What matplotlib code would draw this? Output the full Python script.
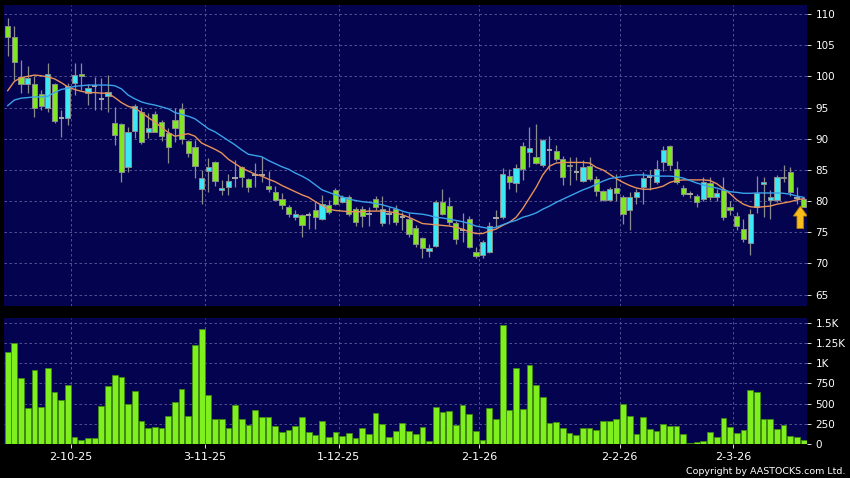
import matplotlib
matplotlib.use('Agg')
import matplotlib.pyplot as plt
import numpy as np
from matplotlib.patches import FancyArrow

# daily candles (index = trading day)
opens = [108.1, 106.3, 99.9, 98.8, 98.8, 97.2, 95.0, 98.7, 93.4, 93.4,
         98.9, 100.4, 97.3, 98.4, 96.3, 96.9, 92.5, 92.3, 85.4, 91.3,
         94.3, 91.0, 93.9, 92.7, 90.9, 93.0, 94.7, 89.6, 88.6, 81.9,
         84.8, 86.3, 81.8, 82.2, 83.7, 85.4, 83.5, 84.2, 84.2, 82.5,
         81.4, 80.3, 79.0, 77.5, 77.8, 77.8, 78.5, 77.1, 79.4, 81.7,
         79.9, 80.7, 78.8, 78.8, 77.9, 80.3, 76.5, 77.9, 78.7, 77.5,
         77.1, 75.7, 74.1, 72.0, 72.8, 79.9, 79.2, 76.5, 75.4, 77.2,
         71.9, 71.4, 71.9, 77.3, 77.4, 84.0, 82.9, 88.9, 87.9, 87.0,
         85.8, 88.2, 88.1, 86.7, 85.8, 84.6, 83.2, 85.6, 83.5, 81.6,
         80.1, 82.05, 80.7, 78.6, 80.7, 82.3, 83.9, 83.0, 86.3, 88.8,
         85.1, 82.05, 81.2, 80.8, 80.3, 82.9, 80.7, 81.7, 79.0, 77.6,
         75.6, 73.3, 79.1, 82.7, 80.1, 80.1, 83.9, 84.6, 80.5, 80.3]
highs = [109.3, 108.1, 102.7, 101.6, 100.0, 97.8, 102.1, 98.9, 94.6, 98.9,
         102.1, 102.1, 98.7, 99.9, 99.8, 100.2, 95.1, 92.6, 91.9, 95.6,
         95.1, 94.1, 94.5, 93.0, 91.7, 94.9, 95.8, 89.8, 89.8, 85.0,
         86.9, 86.5, 83.4, 84.3, 86.6, 85.6, 83.7, 86.1, 87.1, 84.8,
         82.4, 81.3, 79.4, 78.6, 78.0, 78.2, 79.9, 81.0, 80.2, 82.1,
         81.0, 80.9, 79.0, 79.2, 79.1, 80.8, 80.8, 79.0, 79.3, 78.3,
         78.1, 76.1, 74.2, 73.2, 80.2, 81.9, 80.6, 76.8, 78.1, 77.6,
         72.6, 73.8, 76.7, 78.5, 85.3, 85.2, 86.0, 89.5, 91.9, 92.4,
         90.0, 90.4, 89.0, 87.2, 87.0, 87.1, 86.6, 87.0, 84.0, 81.8,
         82.2, 84.3, 81.0, 81.5, 82.0, 84.6, 85.0, 86.6, 88.9, 89.0,
         86.5, 82.6, 81.6, 81.2, 83.9, 83.9, 82.0, 83.9, 80.0, 78.3,
         77.2, 78.7, 84.0, 83.9, 81.8, 84.2, 85.8, 85.5, 82.3, 80.7]
lows = [103.2, 99.4, 97.3, 97.3, 93.5, 94.6, 94.3, 92.6, 90.3, 92.2,
        97.0, 97.8, 95.4, 94.6, 94.6, 94.3, 89.0, 83.0, 84.6, 90.1,
        89.2, 90.1, 91.0, 89.7, 86.1, 89.5, 89.2, 87.0, 83.7, 79.5,
        81.5, 82.4, 81.0, 81.0, 82.3, 82.3, 81.4, 82.3, 83.1, 81.5,
        80.0, 78.7, 77.4, 76.9, 74.3, 75.6, 75.6, 77.0, 78.0, 79.3,
        79.7, 77.6, 76.0, 75.9, 76.0, 78.6, 76.0, 76.3, 76.2, 75.4,
        74.2, 72.7, 70.8, 71.1, 72.6, 77.8, 76.2, 73.2, 73.5, 72.5,
        70.9, 70.9, 71.7, 75.8, 77.2, 82.0, 81.5, 83.4, 85.5, 85.9,
        85.5, 85.0, 86.5, 82.6, 82.6, 83.4, 83.0, 83.3, 80.8, 80.0,
        80.0, 80.0, 76.3, 75.3, 79.5, 79.6, 81.7, 82.8, 84.8, 85.0,
        82.8, 80.8, 80.5, 79.0, 80.0, 80.2, 80.0, 77.0, 77.8, 75.4,
        73.5, 71.4, 78.1, 77.5, 77.2, 79.9, 83.0, 80.8, 79.6, 79.0]
closes = [106.3, 102.3, 98.8, 99.8, 95.0, 95.3, 100.3, 92.8, 93.4, 98.5,
          100.2, 100.0, 98.2, 98.4, 96.3, 97.5, 90.6, 84.6, 91.0, 95.3,
          89.4, 91.7, 91.1, 90.4, 88.7, 91.7, 90.0, 87.7, 85.7, 83.7,
          85.5, 83.3, 82.1, 83.2, 83.7, 83.9, 82.3, 84.2, 84.2, 82.0,
          80.2, 79.3, 77.9, 77.9, 76.1, 77.8, 77.4, 79.5, 78.2, 79.5,
          80.7, 78.0, 76.6, 77.6, 77.9, 79.0, 78.7, 77.9, 76.7, 77.5,
          74.7, 73.1, 72.4, 72.4, 79.9, 78.0, 76.7, 73.9, 75.4, 72.7,
          71.2, 73.5, 76.0, 77.3, 84.4, 83.1, 85.3, 85.1, 88.5, 86.1,
          89.8, 88.2, 86.7, 83.9, 85.6, 84.6, 85.5, 83.5, 81.6, 80.2,
          81.9, 81.35, 78.0, 80.7, 81.5, 83.7, 83.9, 85.1, 88.2, 85.8,
          83.0, 81.1, 81.2, 79.8, 83.0, 80.7, 81.35, 77.5, 78.5, 76.0,
          73.9, 78.0, 81.35, 83.1, 80.7, 83.9, 83.7, 81.5, 80.5, 79.0]

# moving averages as drawn on the chart
ma_short = [97.7, 99.2, 99.8, 100.0, 100.2, 100.1, 99.9, 99.6, 99.0, 98.3,
            97.9, 97.6, 97.4, 97.4, 97.3, 97.3, 96.6, 95.8, 95.2, 94.9,
            94.2, 93.4, 92.7, 91.8, 91.0, 90.4, 90.6, 90.8, 90.4, 89.3,
            88.8, 88.3, 87.7, 86.7, 86.0, 85.3, 84.8, 84.3, 84.0, 83.5,
            83.1, 82.5, 82.0, 81.5, 81.0, 80.6, 79.9, 79.3, 78.7, 78.5,
            78.4, 78.3, 78.3, 78.3, 78.4, 78.4, 78.4, 78.3, 78.1, 77.8,
            77.4, 76.9, 76.4, 76.3, 76.2, 76.1, 76.0, 75.8, 75.5, 75.1,
            74.8, 74.8, 75.2, 75.5, 76.1, 76.6, 77.4, 78.8, 80.5, 82.2,
            84.2, 85.6, 86.1, 86.2, 86.2, 86.2, 86.2, 86.1, 85.4, 85.0,
            84.3, 83.6, 83.0, 82.5, 82.1, 81.9, 81.9, 82.1, 82.4, 83.0,
            83.3, 83.4, 83.4, 83.4, 83.4, 83.3, 82.8, 82.0, 81.2, 80.2,
            79.5, 79.1, 79.0, 79.1, 79.2, 79.5, 79.7, 79.9, 80.2, 80.4]
ma_long = [95.3, 96.2, 96.5, 96.6, 96.7, 96.7, 96.8, 97.4, 97.9, 98.1,
           98.4, 98.5, 98.6, 98.6, 98.6, 98.6, 98.5, 98.0, 97.0, 96.4,
           95.9, 95.6, 95.4, 95.1, 94.8, 94.2, 93.9, 93.6, 93.2, 92.4,
           91.6, 91.1, 90.4, 89.7, 89.0, 88.2, 87.5, 87.3, 87.1, 86.5,
           86.0, 85.5, 85.1, 84.5, 84.0, 83.4, 82.6, 81.8, 81.4, 81.0,
           80.7, 80.3, 80.1, 79.9, 79.8, 79.6, 79.4, 79.1, 78.8, 78.4,
           78.1, 78.0, 77.9, 77.7, 77.4, 77.3, 77.1, 76.9, 76.7, 76.4,
           76.0, 75.8, 75.6, 75.8, 76.2, 76.6, 76.9, 77.4, 77.7, 78.1,
           78.7, 79.2, 79.8, 80.3, 80.8, 81.3, 81.8, 82.2, 82.7, 83.2,
           83.6, 83.8, 83.9, 84.1, 84.2, 84.2, 84.1, 84.0, 84.0, 84.0,
           83.9, 83.7, 83.3, 82.9, 82.6, 82.3, 82.1, 81.8, 81.5, 81.4,
           81.25, 81.25, 81.3, 81.3, 81.3, 81.3, 81.25, 81.1, 80.8, 80.6]

# volume (shares, K)
volumes = [1146, 1250, 822, 440, 918, 453, 947, 648, 544, 727,
           83, 50, 66, 66, 473, 723, 860, 835, 490, 656,
           287, 195, 203, 195, 349, 515, 677, 345, 1229, 1424,
           606, 307, 307, 199, 482, 307, 228, 424, 332, 336,
           220, 141, 166, 220, 336, 145, 104, 282, 83, 141,
           96, 129, 75, 195, 116, 382, 249, 79, 158, 257,
           158, 116, 208, 33, 461, 390, 407, 233, 486, 370,
           154, 46, 449, 307, 1478, 419, 939, 432, 976, 731,
           586, 253, 270, 195, 133, 108, 195, 191, 166, 278,
           278, 303, 494, 341, 125, 336, 183, 154, 245, 216,
           216, 125, 5, 21, 37, 145, 83, 320, 208, 137,
           170, 673, 648, 307, 311, 183, 233, 91, 79, 46]

date_labels = ['2-10-25', '3-11-25', '1-12-25', '2-1-26', '2-2-26', '2-3-26']
date_index = [9, 29, 49, 70, 91, 108]

price_ticks = [65, 70, 75, 80, 85, 90, 95, 100, 105, 110]
vol_ticks = [0, 250, 500, 750, 1000, 1250, 1500]
vol_tick_labels = ['0', '250', '500', '750', '1K', '1.25K', '1.5K']

navy = '#03034f'
grid_col = '#5c5c9c'
up_col = '#3ce8f4'
down_col = '#80e622'
edge_col = '#8c8c8c'

o = np.array(opens)
h = np.array(highs)
l = np.array(lows)
c = np.array(closes)
x = np.arange(len(o))
grid_x = np.array(date_index) + 0.5

fig = plt.figure(figsize=(8.5, 4.78), dpi=100, facecolor='black')
ax = fig.add_axes([4 / 850, 1 - 306 / 478, 803 / 850, 301 / 478])
axv = fig.add_axes([4 / 850, 1 - 444 / 478, 803 / 850, 126 / 478])

for a in (ax, axv):
    a.set_facecolor(navy)
    for s in a.spines.values():
        s.set_visible(False)
    a.set_xlim(-0.55, 119.5)
    for gx in grid_x:
        a.axvline(gx, color=grid_col, lw=0.6, ls=(0, (3, 3)), zorder=0)

# price panel
for p in price_ticks:
    ax.axhline(p, color=grid_col, lw=0.6, ls=(0, (3, 3)), zorder=0)

ax.vlines(x, l, h, color=edge_col, lw=0.9, zorder=1)
doji = o == c
body_col = np.where(c > o, up_col, down_col)
ax.bar(x[~doji], np.abs(c - o)[~doji], bottom=np.minimum(o, c)[~doji],
       width=0.78, color=body_col[~doji], edgecolor=edge_col, linewidth=0.7, zorder=2)
ax.hlines(o[doji], x[doji] - 0.4, x[doji] + 0.4, color='#a8a8a8', lw=1.4, zorder=2)

ax.plot(x, ma_short, color='#e8925a', lw=1.0, zorder=3)
ax.plot(x, ma_long, color='#3aa2ea', lw=1.0, zorder=3)

# arrow under the latest candle
last = len(o) - 1
ax.add_patch(FancyArrow(last - 0.5, l[last] - 3.4, 0, 3.6, width=1.0,
                        head_width=2.1, head_length=1.6, length_includes_head=True,
                        fc='#f6bd1c', ec='#b07a00', lw=0.6, zorder=4))

ax.set_ylim(63.18, 111.44)
ax.yaxis.tick_right()
ax.set_yticks(price_ticks)
ax.set_xticks([])
ax.tick_params(axis='y', colors='white', labelsize=7.5, length=3, pad=3, width=0.6)

# volume panel
for v in vol_ticks[1:]:
    axv.axhline(v, color=grid_col, lw=0.6, ls=(0, (3, 3)), zorder=0)
axv.bar(x, volumes, width=0.86, color='#7ff01e', edgecolor='#3f8a10', linewidth=0.6, zorder=2)
axv.set_ylim(-4, 1566)
axv.yaxis.tick_right()
axv.set_yticks(vol_ticks)
axv.set_yticklabels(vol_tick_labels)
axv.set_xticks(grid_x)
axv.set_xticklabels(date_labels)
axv.tick_params(axis='y', colors='white', labelsize=7.5, length=3, pad=3, width=0.6)
axv.tick_params(axis='x', colors='white', labelsize=8, length=3, pad=3, width=0.6)

fig.text(0.995, 0.013, 'Copyright by AASTOCKS.com Ltd.', color='white',
         fontsize=6.8, ha='right', va='center')

fig.savefig('out.png', dpi=100, facecolor='black')
